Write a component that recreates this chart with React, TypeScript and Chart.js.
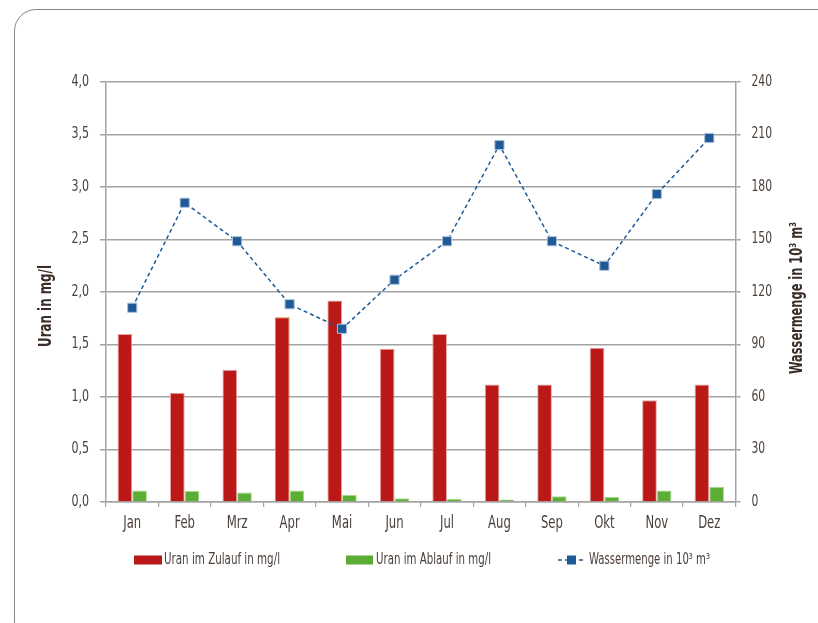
import React, { useEffect, useRef } from "react";
import { Chart, registerables } from "chart.js";

Chart.register(...registerables);

const months = ["Jan", "Feb", "Mrz", "Apr", "Mai", "Jun", "Jul", "Aug", "Sep", "Okt", "Nov", "Dez"];
const uranZulauf = [1.6, 1.04, 1.26, 1.76, 1.92, 1.46, 1.6, 1.12, 1.12, 1.47, 0.97, 1.12];
const uranAblauf = [0.11, 0.105, 0.09, 0.11, 0.07, 0.035, 0.03, 0.025, 0.055, 0.05, 0.11, 0.145];
const wassermenge = [111, 171, 149, 113, 99, 127, 149, 204, 149, 135, 176, 208];
const seriesLabels = ["Uran im Zulauf in mg/l", "Uran im Ablauf in mg/l", "Wassermenge in 10³ m³"];
const leftTitle = "Uran in mg/l";
const rightTitle = "Wassermenge in 10³ m³";

const FONT = "'DejaVu Sans Condensed', 'Liberation Sans Narrow', sans-serif";
const TEXT = "#4a3f39";
const TITLE = "#3a2c26";
const GRID = "#a3a3a3";
const RED = "#bb1818";
const GREEN = "#5aae33";
const BLUE = "#1f5a97";

const fmtLeft = (v: number) => v.toFixed(1).replace(".", ",");

// Draws text narrowed horizontally (the face is a tall, narrow grotesque).
function narrowText(
  ctx: CanvasRenderingContext2D,
  text: string,
  x: number,
  y: number,
  align: CanvasTextAlign,
  sx: number,
  rotate = 0
) {
  ctx.save();
  ctx.translate(x, y);
  if (rotate) ctx.rotate(rotate);
  ctx.scale(sx, 1);
  ctx.textAlign = align;
  ctx.textBaseline = "middle";
  ctx.fillText(text, 0, 0);
  ctx.restore();
}

// Squeeze factor so that text spans a given length.
function fitScale(ctx: CanvasRenderingContext2D, text: string, length: number) {
  return length / ctx.measureText(text).width;
}

// Tick labels, axis titles (both read bottom-to-top) and the legend row.
const decorations = {
  id: "decorations",
  afterDraw(chart: Chart) {
    const ctx = chart.ctx;
    const sx = chart.scales.x as any;
    const sy = chart.scales.y as any;
    const sy1 = chart.scales.y1 as any;
    ctx.save();

    // tick labels
    ctx.fillStyle = TEXT;
    ctx.font = `15px ${FONT}`;
    sy.ticks.forEach((t: any, i: number) => {
      narrowText(ctx, fmtLeft(t.value), sy.right - 17, sy.getPixelForTick(i), "right", 0.82);
    });
    sy1.ticks.forEach((t: any, i: number) => {
      narrowText(ctx, String(t.value), sy1.left + 16, sy1.getPixelForTick(i), "left", 0.8);
    });
    ctx.font = `17px ${FONT}`;
    sx.ticks.forEach((t: any, i: number) => {
      narrowText(ctx, months[t.value], sx.getPixelForTick(i), sx.top + 22, "center", 0.76);
    });

    // axis titles
    ctx.fillStyle = TITLE;
    ctx.font = `bold 17px ${FONT}`;
    narrowText(ctx, leftTitle, 47, 306, "center", fitScale(ctx, leftTitle, 82), -Math.PI / 2);
    narrowText(ctx, rightTitle, 798, 298, "center", fitScale(ctx, rightTitle, 152), -Math.PI / 2);

    // legend
    const ly = 560;
    ctx.fillStyle = RED;
    ctx.fillRect(134, ly - 4.5, 28, 9);
    ctx.fillStyle = GREEN;
    ctx.fillRect(346, ly - 4.5, 27, 9);

    ctx.strokeStyle = BLUE;
    ctx.lineWidth = 1.5;
    ctx.setLineDash([4, 3]);
    ctx.beginPath();
    ctx.moveTo(558, ly);
    ctx.lineTo(586, ly);
    ctx.stroke();
    ctx.setLineDash([]);
    ctx.fillStyle = BLUE;
    ctx.fillRect(567, ly - 4.5, 9, 9);

    ctx.fillStyle = TEXT;
    ctx.font = `15px ${FONT}`;
    narrowText(ctx, seriesLabels[0], 164, ly, "left", fitScale(ctx, seriesLabels[0], 116));
    narrowText(ctx, seriesLabels[1], 376, ly, "left", fitScale(ctx, seriesLabels[1], 115));
    narrowText(ctx, seriesLabels[2], 589, ly, "left", fitScale(ctx, seriesLabels[2], 121));
    ctx.restore();
  },
};

export default function App() {
  const canvasRef = useRef<HTMLCanvasElement | null>(null);

  useEffect(() => {
    if (!canvasRef.current) return;
    const chart = new Chart(canvasRef.current, {
      type: "bar",
      data: {
        labels: months,
        datasets: [
          {
            type: "line",
            label: seriesLabels[2],
            data: wassermenge,
            yAxisID: "y1",
            order: 0,
            borderColor: BLUE,
            borderWidth: 1.5,
            borderDash: [4, 3],
            pointStyle: "rect",
            pointRadius: 6.5,
            pointBackgroundColor: BLUE,
            pointBorderColor: "#a9c2de",
            pointBorderWidth: 1,
            tension: 0,
            fill: false,
          },
          {
            type: "bar",
            label: seriesLabels[0],
            data: uranZulauf,
            yAxisID: "y",
            order: 1,
            backgroundColor: RED,
            borderColor: months.map((m) => (m === "Apr" ? "#e8841c" : "#e6a3a3")),
            borderWidth: 1,
            categoryPercentage: 0.56,
            barPercentage: 1,
          },
          {
            type: "bar",
            label: seriesLabels[1],
            data: uranAblauf,
            yAxisID: "y",
            order: 1,
            backgroundColor: GREEN,
            borderColor: "#a9d893",
            borderWidth: 1,
            categoryPercentage: 0.56,
            barPercentage: 1,
          },
        ],
      },
      options: {
        responsive: false,
        animation: false,
        devicePixelRatio: 1,
        layout: { padding: { top: 82, left: 0, right: 0, bottom: 0 } },
        plugins: {
          legend: { display: false },
          tooltip: { enabled: false },
        },
        scales: {
          x: {
            offset: true,
            grid: {
              offset: true,
              drawOnChartArea: false,
              drawTicks: true,
              tickLength: 5,
              color: GRID,
              lineWidth: 1.2,
            },
            border: { display: true, color: GRID, width: 1.5 },
            ticks: { display: false },
            afterFit(scale: any) {
              scale.height = 121;
            },
          },
          y: {
            position: "left",
            min: 0,
            max: 4,
            ticks: { display: false, stepSize: 0.5 },
            grid: { color: GRID, lineWidth: 1.5, tickLength: 6 },
            border: { display: true, color: GRID, width: 1.5 },
            afterFit(scale: any) {
              scale.width = 106;
            },
          },
          y1: {
            position: "right",
            min: 0,
            max: 240,
            ticks: { display: false, stepSize: 30 },
            grid: { drawOnChartArea: false, color: GRID, lineWidth: 1.5, tickLength: 5 },
            border: { display: true, color: GRID, width: 1.5 },
            afterFit(scale: any) {
              scale.width = 82.5;
            },
          },
        },
      },
      plugins: [decorations],
    });
    return () => chart.destroy();
  }, []);

  return (
    <div
      style={{
        position: "fixed",
        left: 0,
        top: 0,
        width: 818,
        height: 623,
        overflow: "hidden",
        background: "#ffffff",
      }}
    >
      <div
        style={{
          position: "absolute",
          left: 14,
          top: 9,
          width: 1000,
          height: 634,
          border: "1.5px solid #8f8680",
          borderRadius: 22,
          boxSizing: "border-box",
        }}
      />
      <canvas
        ref={canvasRef}
        width={818}
        height={623}
        style={{ position: "absolute", left: 0, top: 0, width: 818, height: 623, display: "block" }}
      />
    </div>
  );
}
